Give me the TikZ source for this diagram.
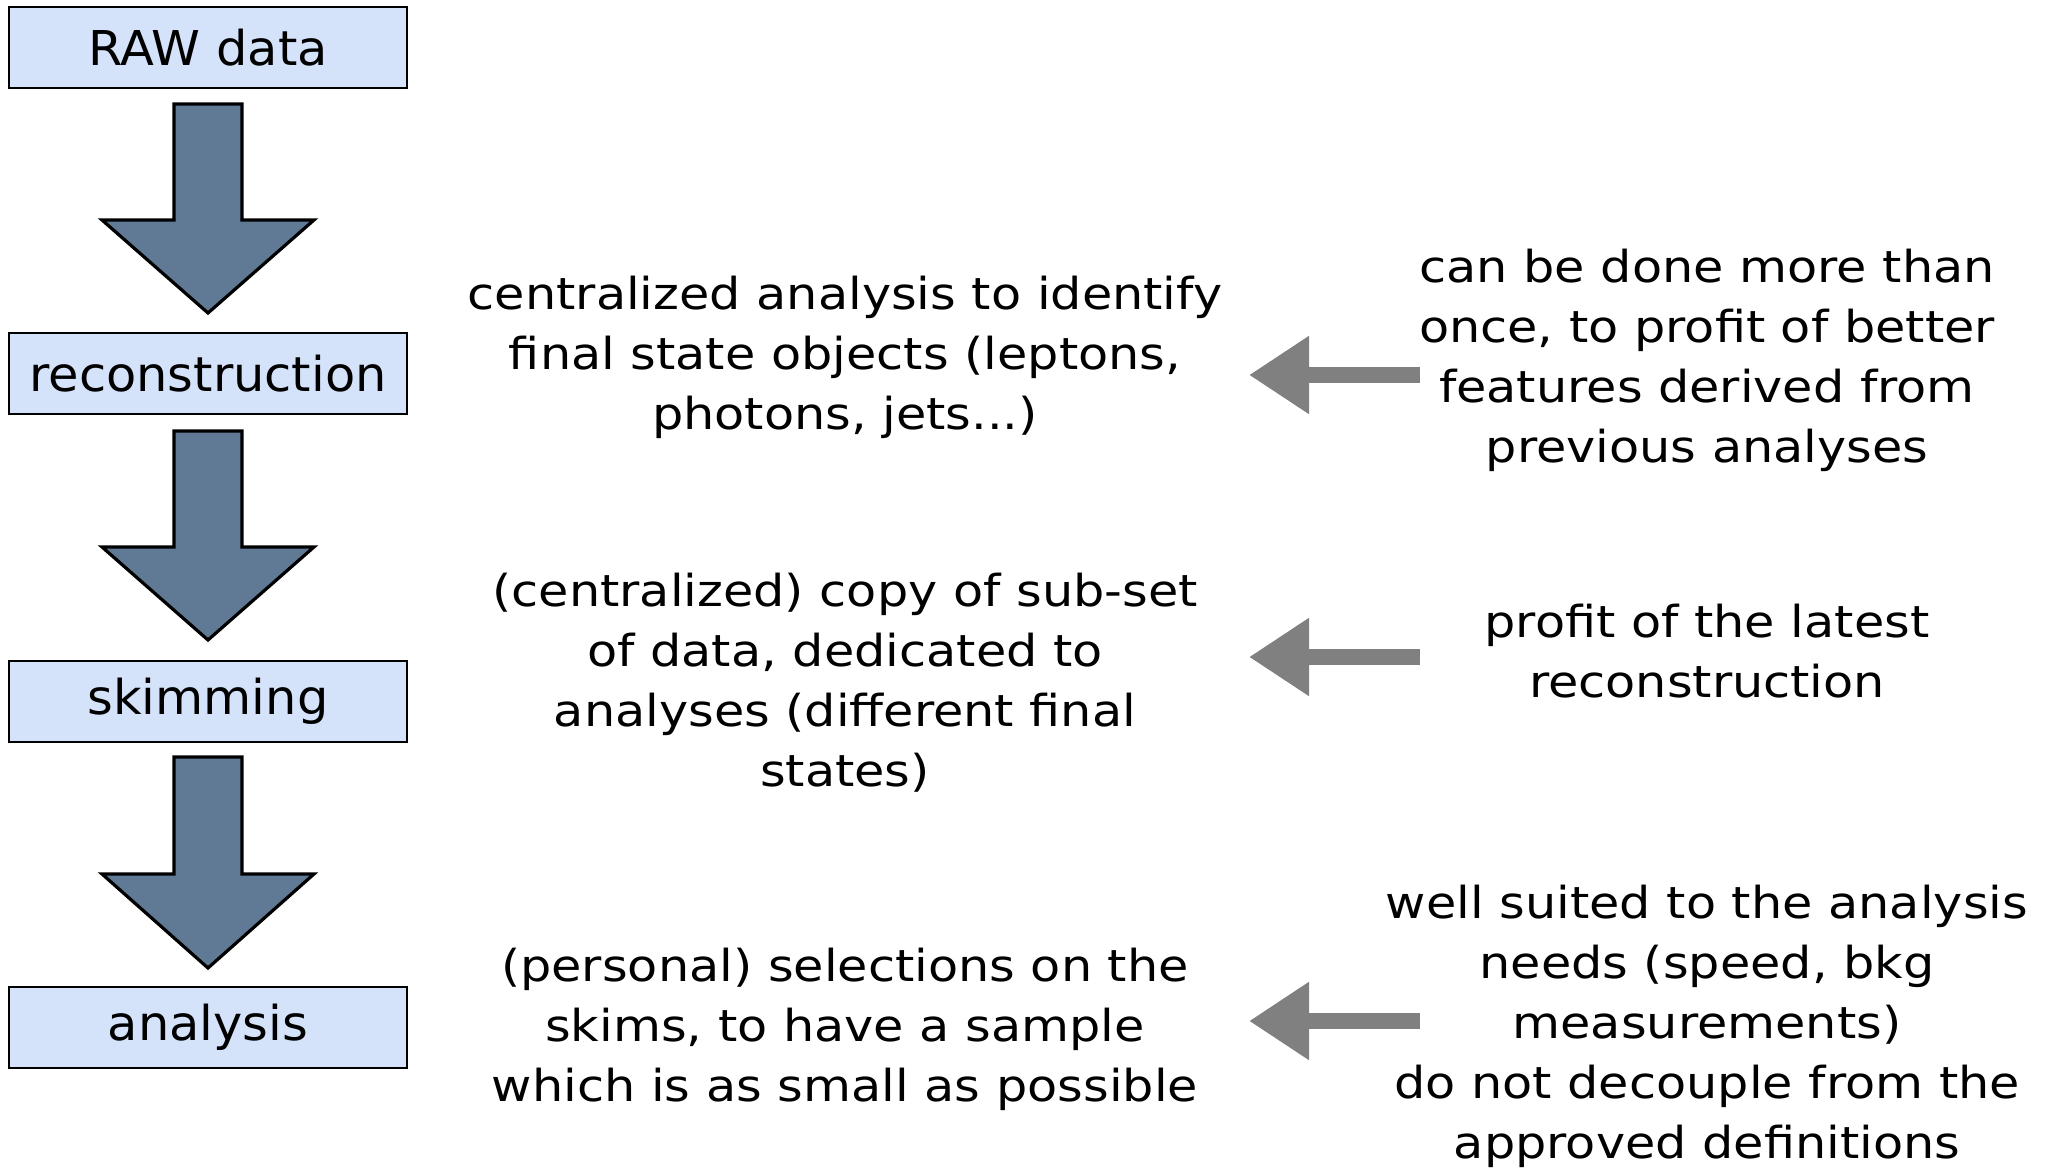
\documentclass[tikz,border=0pt]{standalone}
\usepackage{fontspec}
\setmainfont{DejaVu Sans}
\newfontfamily\boxfont[FakeStretch=1.03]{DejaVu Sans}
\newfontfamily\notefont[FakeStretch=1.12]{DejaVu Sans}
\usetikzlibrary{arrows.meta}
\definecolor{boxfill}{RGB}{212,226,250}
\definecolor{slate}{RGB}{96,122,150}
\definecolor{chalk}{RGB}{128,128,128}
\tikzset{
  stagebox/.style={draw=black, line width=1pt, fill=boxfill, minimum width=199pt, minimum height=40.5pt, inner sep=0pt, font=\boxfont\fontsize{24}{30}\selectfont},
  note/.style={align=center, inner sep=0pt, font=\notefont\fontsize{22}{30}\selectfont},
  blockarrow/.style={draw=black, line width=1.6pt, fill=slate, line join=miter},
  chalkarrow/.style={draw=chalk, line width=8pt, -{Triangle[length=30pt, width=37pt]}}
}
\begin{document}
\begin{tikzpicture}[x=0.5pt, y=-0.5pt]
\useasboundingbox (0,0) rectangle (2045,1170);
\node[stagebox] (raw) at (208,47.5) {RAW data};
\node[stagebox] (reco) at (208,374) {reconstruction};
\node[stagebox] (skim) at (208,701.5) {skimming};
\node[stagebox] (ana) at (208,1027.5) {analysis};
% block arrows
\foreach \t/\h/\p in {104/220/313, 431/547/640, 757/874/968}{
  \draw[blockarrow] (174,\t) -- (242,\t) -- (242,\h) -- (314,\h) -- (208,\p) -- (102,\h) -- (174,\h) -- cycle;
}
\node[note] (m1) at (845,357) {centralized analysis to identify\\final state objects (leptons,\\photons, jets...)};
\node[note] (m2) at (845,683) {(centralized) copy of sub-set\\of data, dedicated to\\analyses (different final\\states)};
\node[note] (m3) at (845,1029) {(personal) selections on the\\skims, to have a sample\\which is as small as possible};
\node[note] (r1) at (1707,360) {can be done more than\\once, to profit of better\\features derived from\\previous analyses};
\node[note] (r2) at (1707,651) {profit of the latest\\reconstruction};
\node[note] (r3) at (1707,1026) {well suited to the analysis\\needs (speed, bkg\\measurements)\\do not decouple from the\\approved definitions};
\coordinate (s1) at (1420,375); \coordinate (e1) at (1249,375);
\coordinate (s2) at (1420,657); \coordinate (e2) at (1249,657);
\coordinate (s3) at (1420,1021); \coordinate (e3) at (1249,1021);
\draw[chalkarrow] (s1) -- (e1);
\draw[chalkarrow] (s2) -- (e2);
\draw[chalkarrow] (s3) -- (e3);
\end{tikzpicture}
\end{document}
